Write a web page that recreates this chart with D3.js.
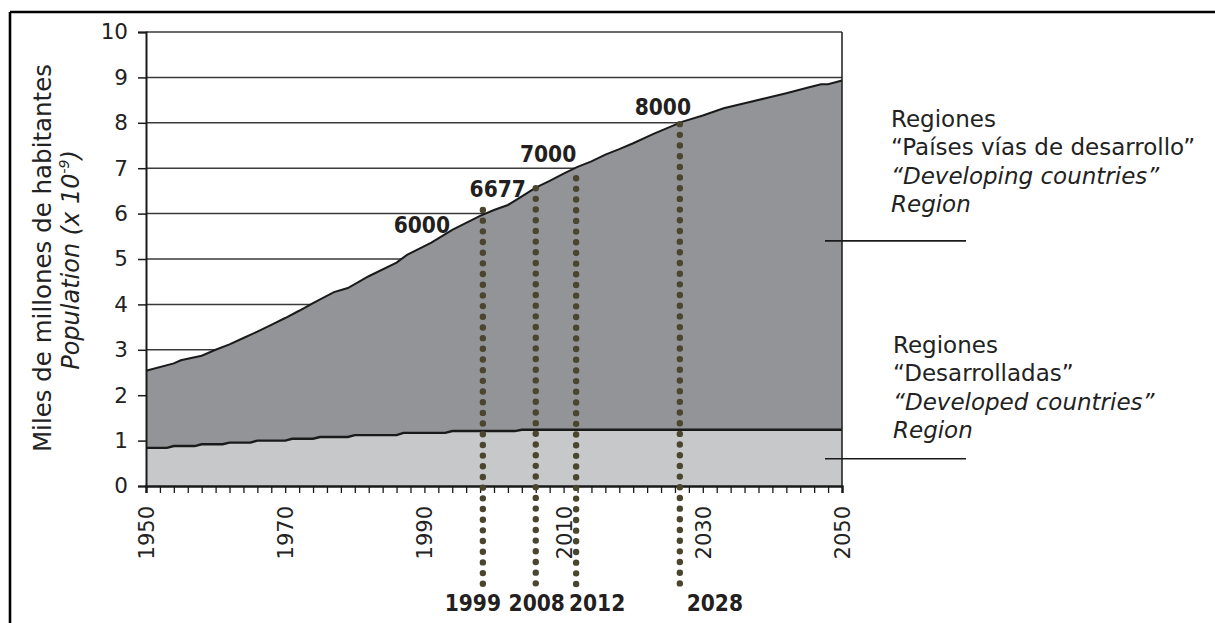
<!DOCTYPE html>
<html>
<head>
<meta charset="utf-8">
<script src="https://cdn.jsdelivr.net/npm/d3@7"></script>
<style>
  html, body { margin: 0; padding: 0; background: #fff; }
  svg { display: block; }
</style>
</head>
<body>
<svg id="chart" width="1215" height="623"></svg>
<script>
// ---- data ----
const totalYears = [1950,1954,1955,1958,1960,1962,1964,1966,1968,1970,1972,1974,1977,1979,1982,1986,1987.5,1991,1994,1998,2000,2002,2004,2006,2008,2010,2012,2014,2016,2018,2020,2023,2027,2030,2033,2036,2039,2042,2045,2047,2048,2050];
const totalValues = [2.54,2.70,2.77,2.87,3.00,3.12,3.26,3.40,3.55,3.70,3.86,4.03,4.27,4.36,4.62,4.92,5.09,5.36,5.64,5.95,6.08,6.19,6.38,6.57,6.72,6.88,7.03,7.15,7.30,7.42,7.55,7.76,8.02,8.16,8.32,8.43,8.54,8.65,8.77,8.85,8.85,8.93];

const developedYears = [1950,1953,1954,1957,1958,1961,1962,1965,1966,1970,1971,1974,1975,1979,1980,1986,1987,1993,1994,2003,2004,2050];
const developedValues = [0.84,0.84,0.88,0.88,0.92,0.92,0.955,0.955,1.00,1.00,1.04,1.04,1.08,1.08,1.12,1.12,1.17,1.17,1.21,1.21,1.24,1.24];

const markerLabels = ["1999","2008","2012","2028"];
const markerValueLabels = ["6000","6677","7000","8000"];
const markerYears = [1998.4, 2006.0, 2011.8, 2026.7];
const markerTops = [6.08, 6.56, 6.78, 7.97];

const yTicks = [0,1,2,3,4,5,6,7,8,9,10];
const xLabelYears = [1950,1970,1990,2010,2030,2050];

const developingText = ["Regiones", "\u201CPa\u00EDses v\u00EDas de desarrollo\u201D", "\u201CDeveloping countries\u201D", "Region"];
const developedText = ["Regiones", "\u201CDesarrolladas\u201D", "\u201CDeveloped countries\u201D", "Region"];

// ---- layout ----
const svg = d3.select("#chart");
const x = d3.scaleLinear().domain([1950, 2050]).range([146, 842]);
const y = d3.scaleLinear().domain([0, 10]).range([486, 32]);
const FONT = "DejaVu Sans, Verdana, sans-serif";

const total = totalYears.map((t, i) => ({year: t, v: totalValues[i]}));
const developed = developedYears.map((t, i) => ({year: t, v: developedValues[i]}));

// frame border (top & left)
svg.append("line").attr("x1", 10).attr("x2", 1215).attr("y1", 12).attr("y2", 12)
  .attr("stroke", "#000").attr("stroke-width", 2.6);
svg.append("line").attr("x1", 10).attr("x2", 10).attr("y1", 12).attr("y2", 623)
  .attr("stroke", "#000").attr("stroke-width", 2.6);

// gridlines
svg.append("g").selectAll("line").data(yTicks.filter(d => d > 0)).join("line")
  .attr("x1", x(1950)).attr("x2", x(2050))
  .attr("y1", d => y(d)).attr("y2", d => y(d))
  .attr("stroke", "#3a3a3a").attr("stroke-width", 1.5);

// areas
svg.append("path").datum(total)
  .attr("fill", "#939498")
  .attr("d", d3.area().x(d => x(d.year)).y0(y(0)).y1(d => y(d.v)));
svg.append("path").datum(developed)
  .attr("fill", "#c7c8ca")
  .attr("d", d3.area().x(d => x(d.year)).y0(y(0)).y1(d => y(d.v)));

// lines
svg.append("path").datum(total)
  .attr("fill", "none").attr("stroke", "#1a1a1a").attr("stroke-width", 2)
  .attr("d", d3.line().x(d => x(d.year)).y(d => y(d.v)));
svg.append("path").datum(developed)
  .attr("fill", "none").attr("stroke", "#1a1a1a").attr("stroke-width", 2.4)
  .attr("d", d3.line().x(d => x(d.year)).y(d => y(d.v)));

// right frame line
svg.append("line").attr("x1", x(2050)).attr("x2", x(2050)).attr("y1", y(10)).attr("y2", y(0))
  .attr("stroke", "#1a1a1a").attr("stroke-width", 1.5);

// y axis
const yAxis = svg.append("g").attr("transform", `translate(${x(1950)},0)`)
  .call(d3.axisLeft(y).tickValues(yTicks).tickSize(8).tickPadding(10).tickFormat(d3.format("d")));
yAxis.select(".domain").attr("stroke", "#1a1a1a").attr("stroke-width", 2);
yAxis.selectAll(".tick line").attr("stroke", "#1a1a1a").attr("stroke-width", 1.5);
yAxis.selectAll(".tick text").attr("font-family", FONT).attr("font-size", 21.5).attr("fill", "#222");

// x axis
const xAxis = svg.append("g").attr("transform", `translate(0,${y(0)})`)
  .call(d3.axisBottom(x).tickValues(d3.range(1950, 2051, 2)).tickSize(7)
    .tickFormat(d => xLabelYears.includes(d) ? String(d) : ""));
xAxis.select(".domain").attr("stroke", "#1a1a1a").attr("stroke-width", 2.4);
xAxis.selectAll(".tick line").attr("stroke", "#1a1a1a").attr("stroke-width", 1.3);
xAxis.selectAll(".tick text")
  .attr("font-family", FONT).attr("font-size", 21).attr("fill", "#222")
  .attr("transform", "rotate(-90)")
  .attr("text-anchor", "end")
  .attr("x", -20).attr("y", 0).attr("dy", "0.36em");

// y axis title
const title = svg.append("text")
  .attr("font-family", FONT).attr("font-size", 24.5).attr("fill", "#222")
  .attr("text-anchor", "middle")
  .attr("transform", "translate(51,258) rotate(-90)");
title.append("tspan").attr("x", 0).attr("y", 0).text("Miles de millones de habitantes");
const t2 = svg.append("text")
  .attr("font-family", FONT).attr("font-size", 24).attr("fill", "#222")
  .attr("font-style", "italic")
  .attr("text-anchor", "middle")
  .attr("transform", "translate(79,260) rotate(-90)");
t2.append("tspan").text("Population (x 10");
t2.append("tspan").attr("font-size", 14).attr("dy", -10).text("-9");
t2.append("tspan").attr("dy", 10).text(")");

// dotted marker lines
const valueLabelOffsets = [[-61, 23], [-38, 9], [-28, -16], [-17, -9]];
const yearLabelOffsets = [-10, 1, 21, 35];
const gm = svg.append("g");
markerYears.forEach((yr, i) => {
  const mx = x(yr);
  gm.append("line")
    .attr("x1", mx).attr("x2", mx)
    .attr("y1", y(markerTops[i])).attr("y2", y(0) + 102)
    .attr("stroke", "#4a452e").attr("stroke-width", 6.4)
    .attr("stroke-linecap", "round").attr("stroke-dasharray", "0 10.68");
  gm.append("text")
    .attr("x", mx + valueLabelOffsets[i][0]).attr("y", y(markerTops[i]) + valueLabelOffsets[i][1])
    .attr("text-anchor", "middle")
    .attr("font-family", "DejaVu Sans Condensed, DejaVu Sans, sans-serif")
    .attr("font-weight", "bold").attr("font-size", 22.5).attr("fill", "#231f20")
    .text(markerValueLabels[i]);
  gm.append("text")
    .attr("x", mx + yearLabelOffsets[i]).attr("y", 611)
    .attr("text-anchor", "middle")
    .attr("font-family", "DejaVu Sans Condensed, DejaVu Sans, sans-serif")
    .attr("font-weight", "bold").attr("font-size", 22.5).attr("fill", "#231f20")
    .text(markerLabels[i]);
});

// right annotations
function block(lines, x0, y0, dyLine) {
  const t = svg.append("text").attr("font-family", FONT).attr("font-size", 23).attr("fill", "#222");
  lines.forEach((s, i) => {
    t.append("tspan").attr("x", x0).attr("y", y0 + i * dyLine)
      .attr("font-style", i >= 2 ? "italic" : "normal").text(s);
  });
}
block(developingText, 891, 127, 28.3);
block(developedText, 893, 353, 28.4);

// leader lines
[5.4, 0.6].forEach(v => {
  svg.append("line").attr("x1", 825).attr("x2", 966).attr("y1", y(v)).attr("y2", y(v))
    .attr("stroke", "#1a1a1a").attr("stroke-width", 1.6);
});
</script>
</body>
</html>
